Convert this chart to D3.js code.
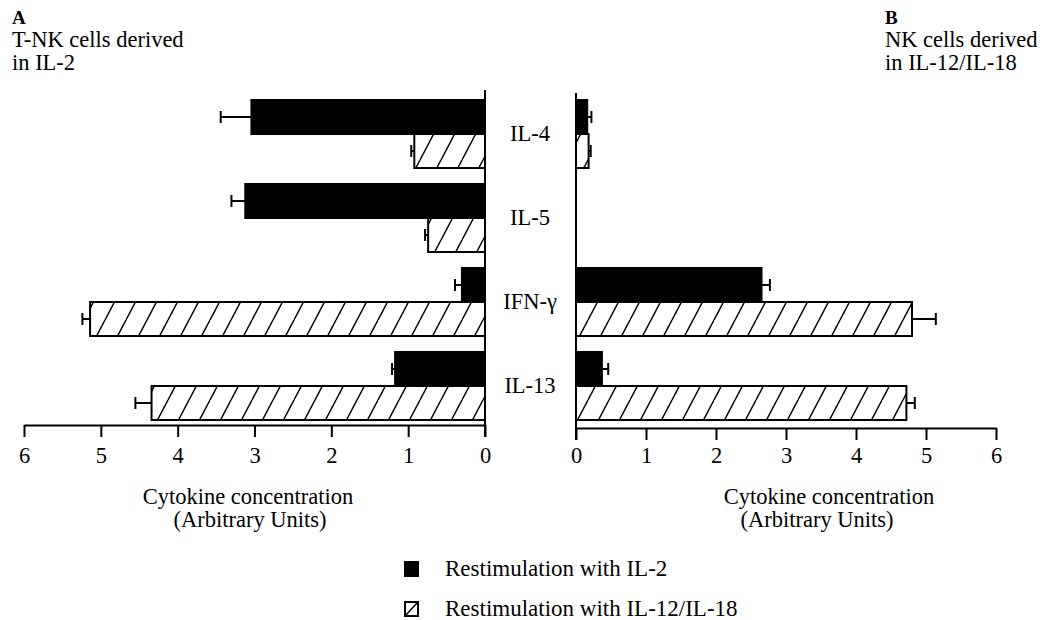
<!DOCTYPE html>
<html>
<head>
<meta charset="utf-8">
<script src="https://cdn.jsdelivr.net/npm/d3@7"></script>
<style>
	body { margin: 0; background: #fff; }
	svg, svg text { font-family: "Liberation Serif", "DejaVu Serif", "Times New Roman", Times, serif; }
	.axis path, .axis line { stroke: #000; stroke-width: 2; }
	.axis text { fill: #000; }
</style>
</head>
<body>
<svg id="chart"></svg>
<script>
const CATEGORIES = ['IL-4', 'IL-5', 'IFN-\u03b3', 'IL-13'];
const SERIES = ['Restimulation with IL-2', 'Restimulation with IL-12/IL-18'];
const X_TICKS = [0, 1, 2, 3, 4, 5, 6];

// panel A: T-NK cells derived in IL-2
const A_IL2 = [3.04, 3.12, 0.30, 1.17];
const A_IL2_ERR = [0.40, 0.18, 0.09, 0.04];
const A_IL12 = [0.92, 0.74, 5.14, 4.34];
const A_IL12_ERR = [0.04, 0.04, 0.10, 0.21];

// panel B: NK cells derived in IL-12/IL-18
const B_IL2 = [0.16, 0, 2.65, 0.37];
const B_IL2_ERR = [0.06, 0, 0.12, 0.09];
const B_IL12 = [0.18, 0, 4.80, 4.72];
const B_IL12_ERR = [0.03, 0, 0.34, 0.12];

const WIDTH = 1061;
const HEIGHT = 620;
const FONT = 22.5;
const SERIF = '"Liberation Serif", "DejaVu Serif", "Times New Roman", Times, serif';

const svg = d3.select('#chart')
	.attr('width', WIDTH)
	.attr('height', HEIGHT)
	.attr('font-family', SERIF);

// diagonal hatch
const defs = svg.append('defs');
defs.append('pattern')
	.attr('id', 'hatch')
	.attr('patternUnits', 'userSpaceOnUse')
	.attr('width', 21)
	.attr('height', 40)
	.call(p => p.append('rect').attr('width', 21).attr('height', 40).attr('fill', '#fff'))
	.append('path')
		.attr('d', 'M-21,40L0,0M0,40L21,0M21,40L42,0')
		.attr('stroke', '#000')
		.attr('stroke-width', 1.5);

const y = d3.scaleBand().domain(CATEGORIES).range([100, 420]).paddingInner(0.19);
const ySub = d3.scaleBand().domain(SERIES).range([0, y.bandwidth()]);

function panel(x, axisY, zeroTop, il2, il2Err, il12, il12Err, tickPad){
	const rows = [];
	CATEGORIES.forEach((c, i) => {
		rows.push({cat: c, series: SERIES[0], value: il2[i], err: il2Err[i]});
		rows.push({cat: c, series: SERIES[1], value: il12[i], err: il12Err[i]});
	});
	const data = rows.filter(d => d.value > 0);
	const mid = d => y(d.cat) + ySub(d.series) + ySub.bandwidth() / 2;

	const g = svg.append('g');

	// error bars first so the bar outline sits on top
	const err = g.selectAll('.err')
		.data(data)
		.enter()
		.append('g')
			.attr('class', 'err')
			.attr('stroke', '#000')
			.attr('stroke-width', 2);
	err.append('line')
		.attr('x1', d => x(d.value))
		.attr('x2', d => x(d.value + d.err))
		.attr('y1', mid)
		.attr('y2', mid);
	err.append('line')
		.attr('x1', d => x(d.value + d.err))
		.attr('x2', d => x(d.value + d.err))
		.attr('y1', d => mid(d) - 6)
		.attr('y2', d => mid(d) + 6);

	g.selectAll('.bar')
		.data(data)
		.enter()
		.append('rect')
			.attr('class', 'bar')
			.attr('x', d => Math.min(x(0), x(d.value)))
			.attr('width', d => Math.abs(x(d.value) - x(0)))
			.attr('y', d => y(d.cat) + ySub(d.series))
			.attr('height', ySub.bandwidth())
			.attr('fill', d => d.series === SERIES[0] ? '#000' : 'url(#hatch)')
			.attr('stroke', '#000')
			.attr('stroke-width', 2);

	g.append('g')
		.attr('class', 'axis')
		.attr('transform', 'translate(0,' + axisY + ')')
		.call(d3.axisBottom(x).tickValues(X_TICKS).tickFormat(d3.format('d')).tickSize(12).tickSizeOuter(0).tickPadding(tickPad))
		.attr('font-family', SERIF)
		.attr('font-size', FONT);

	g.append('line')
		.attr('x1', x(0)).attr('x2', x(0))
		.attr('y1', zeroTop).attr('y2', axisY + 12)
		.attr('stroke', '#000')
		.attr('stroke-width', 2);
}

const xA = d3.scaleLinear().domain([0, 6]).range([485, 24]);
const xB = d3.scaleLinear().domain([0, 6]).range([576, 996]);

panel(xA, 425, 90, A_IL2, A_IL2_ERR, A_IL12, A_IL12_ERR, 10);
panel(xB, 428, 93, B_IL2, B_IL2_ERR, B_IL12, B_IL12_ERR, 7);

// category labels between the panels
svg.selectAll('.cat-label')
	.data(CATEGORIES)
	.enter()
	.append('text')
		.attr('class', 'cat-label')
		.attr('x', 530)
		.attr('y', d => y(d) + y.bandwidth() / 2 + 7)
		.attr('text-anchor', 'middle')
		.attr('font-size', FONT)
		.text(d => d);

// panel titles
function title(x, letter, lines){
	const t = svg.append('text').attr('x', x).attr('font-size', FONT);
	t.append('tspan').attr('x', x).attr('y', 24).attr('font-weight', 'bold').attr('font-size', 19).text(letter);
	lines.forEach((l, i) => t.append('tspan').attr('x', x).attr('y', 47 + i * 23).text(l));
}
title(12, 'A', ['T-NK cells derived', 'in IL-2']);
title(885, 'B', ['NK cells derived', 'in IL-12/IL-18']);

// axis titles (two lines in one text)
[[248, 250], [829, 817]].forEach(pos => {
	const t = svg.append('text')
		.attr('text-anchor', 'middle')
		.attr('font-size', FONT);
	t.append('tspan').attr('x', pos[0]).attr('y', 504).text('Cytokine concentration');
	t.append('tspan').attr('x', pos[1]).attr('y', 527).text('(Arbitrary Units)');
});

// legend
const legend = svg.selectAll('.legend')
	.data(SERIES)
	.enter()
	.append('g')
		.attr('class', 'legend')
		.attr('transform', (d, i) => 'translate(405,' + (562 + i * 40) + ')');
legend.append('rect')
	.attr('width', 13)
	.attr('height', 14)
	.attr('fill', (d, i) => i === 0 ? '#000' : '#fff')
	.attr('stroke', '#000')
	.attr('stroke-width', 2);
legend.filter((d, i) => i === 1)
	.append('line')
		.attr('x1', 1).attr('y1', 13).attr('x2', 12).attr('y2', 1)
		.attr('stroke', '#000')
		.attr('stroke-width', 1.5);
legend.append('text')
	.attr('x', 40)
	.attr('y', 14)
	.attr('font-size', 23)
	.text(d => d);
</script>
</body>
</html>
